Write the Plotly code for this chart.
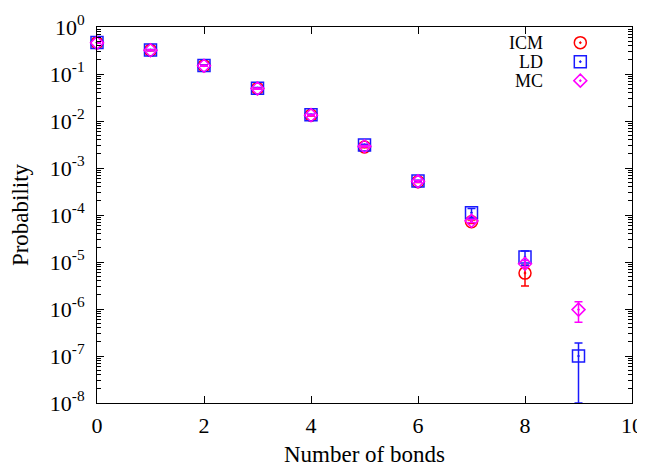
import plotly.graph_objects as go

bonds = [0, 1, 2, 3, 4, 5, 6, 7, 8, 9]

icm = [0.46, 0.32, 0.15, 0.049, 0.0132, 0.0028, 5.1e-4, 7.2e-5, 5.8e-6, None]
icm_err = [0.01, 0.008, 0.004, 0.0015, 0.0004, 0.0001, 2e-5, 6e-6, 2.7e-6, None]

ld = [0.47, 0.325, 0.152, 0.050, 0.0136, 0.0031, 5.3e-4, 1.12e-4, 1.28e-5, 1.0e-7]
ld_err = [0.01, 0.008, 0.004, 0.0015, 0.0004, 0.0001, 2e-5, 2.5e-5, 4.3e-6, 0.9e-7]

mc = [0.46, 0.32, 0.15, 0.049, 0.0133, 0.0029, 5.2e-4, 7.5e-5, 9.2e-6, 0.97e-6]
mc_err = [0.01, 0.008, 0.004, 0.0015, 0.0004, 0.0001, 2e-5, 6e-6, 1.5e-6, 4.5e-7]

series = [
    ("ICM", icm, icm_err, "#ff0000", "circle-open-dot", 12),
    ("LD", ld, ld_err, "#1a1aff", "square-open-dot", 12),
    ("MC", mc, mc_err, "#ff00ff", "diamond-open-dot", 10),
]

FONT = "Liberation Serif"
fig = go.Figure()
for name, vals, errs, color, sym, size in series:
    fig.add_trace(go.Scatter(
        x=bonds, y=vals, mode="markers", name=" ",
        marker=dict(symbol=sym, size=size, color=color, line=dict(width=1.5, color=color)),
        error_y=dict(type="data", array=errs, visible=True, color=color, thickness=1.5, width=4),
        cliponaxis=False,
    ))

major = [10.0 ** e for e in range(-8, 1)]
major_text = ["10<sup>%d</sup>" % e for e in range(-8, 1)]
minor = [k * 10.0 ** e for e in range(-8, 0) for k in range(2, 10)]

# page body adds an 8px offset, so the figure is 637x462
fig.update_layout(
    width=637, height=462,
    margin=dict(l=89, r=13, t=19, b=67),
    paper_bgcolor="white", plot_bgcolor="white",
    font=dict(family=FONT, size=22, color="black"),
    showlegend=True,
    legend=dict(x=0.866, y=0.997, xanchor="left", yanchor="top",
                bgcolor="rgba(0,0,0,0)", font=dict(size=12, family=FONT),
                tracegroupgap=0),
    xaxis=dict(
        range=[0, 10], tickvals=[0, 2, 4, 6, 8, 10], automargin=False,
        ticks="inside", ticklen=7, tickwidth=1, tickcolor="black",
        showline=True, linecolor="black", linewidth=1, mirror="ticks",
        showgrid=False, zeroline=False, ticklabelstandoff=3,
        ticklabeloverflow="allow",
        tickfont=dict(size=22, family=FONT),
        title=dict(text="Number of bonds", font=dict(size=23, family=FONT), standoff=8),
    ),
    yaxis=dict(
        type="log", range=[-8, 0], tickvals=major, ticktext=major_text, automargin=False,
        ticks="inside", ticklen=7, tickwidth=1, tickcolor="black",
        minor=dict(tickvals=minor, ticks="inside", ticklen=4, tickcolor="black", tickwidth=1),
        showline=True, linecolor="black", linewidth=1, mirror="ticks",
        showgrid=False, zeroline=False, ticklabelstandoff=7,
        tickfont=dict(size=22, family=FONT),
        title=dict(text="Probability", font=dict(size=23, family=FONT), standoff=24),
    ),
    annotations=[
        dict(text=t, xref="paper", yref="paper", x=0.837, y=yy, xanchor="right",
             yanchor="middle", showarrow=False, font=dict(size=18, family=FONT))
        for t, yy in [("ICM", 0.958), ("LD", 0.907), ("MC", 0.857)]
    ],
)

fig.write_html("out.html")
